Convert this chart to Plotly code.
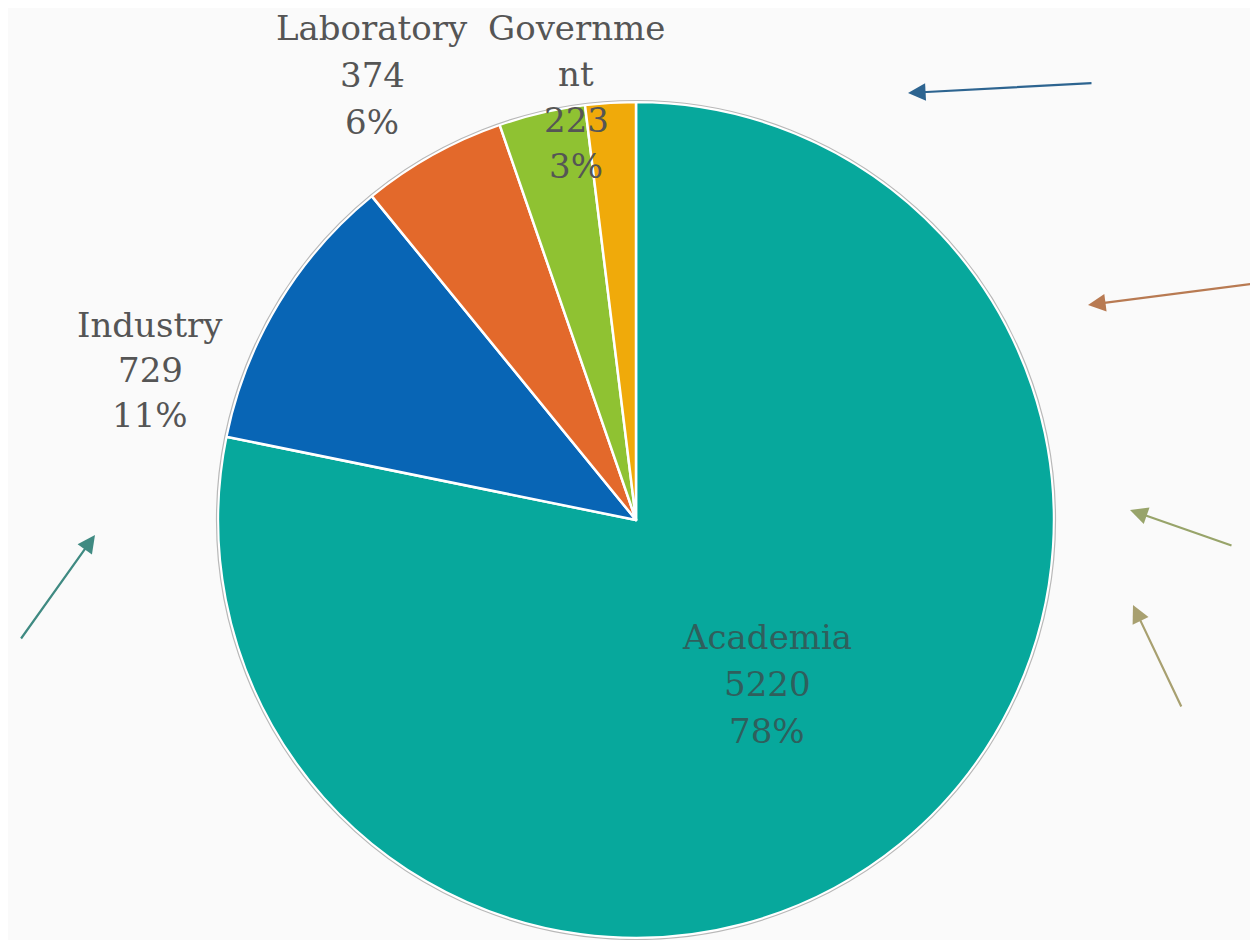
import plotly.graph_objects as go

# ---- data ----
categories = ["Academia", "Industry", "Laboratory", "Government", "Other"]
display_names = ["Academia", "Industry", "Laboratory", "Governme<br>nt", ""]
values = [5220, 729, 374, 223, 130]
colors = ["#07a89c", "#0865b5", "#e3692b", "#8fc232", "#f0aa0a"]
show_label = [True, True, True, True, False]

# page offset (browser body margin) compensation
OFF = 8
W, H = 1258 - OFF, 940 - OFF
cx, cy, r = 636 - OFF, 520 - OFF, 418


def px(x):
    return (x - OFF) / W


def py(y):
    return 1 - (y - OFF) / H


total = sum(values)
fig = go.Figure()
fig.add_trace(go.Pie(
    labels=categories, values=values, sort=False, direction="clockwise", rotation=0,
    marker=dict(colors=colors, line=dict(color="white", width=2.5)),
    textinfo="none", hoverinfo="label+value+percent", showlegend=False,
    domain=dict(x=[(cx - r) / W, (cx + r) / W], y=[(H - (cy + r)) / H, (H - (cy - r)) / H]),
))

# outer thin grey ring
fig.add_shape(type="circle", xref="paper", yref="paper",
              x0=(cx - r - 1.5) / W, x1=(cx + r + 1.5) / W,
              y0=(H - (cy + r + 1.5)) / H, y1=(H - (cy - r - 1.5)) / H,
              line=dict(color="#b8b8b8", width=1.2))

# label placement (pixel centres of first line), line spacing, colour
label_pos = {
    "Academia": (767, 637, 47, "#2f5f5c"),
    "Industry": (150, 325, 45, "#555555"),
    "Laboratory": (372, 28, 47, "#555555"),
    "Government": (576, 28, 46, "#555555"),
}
for cat, name, v, show in zip(categories, display_names, values, show_label):
    if not show:
        continue
    pct = round(v / total * 100)
    lines = name.split("<br>") + [str(v), f"{pct}%"]
    x0, y0, dy, col = label_pos[cat]
    for i, ln in enumerate(lines):
        fig.add_annotation(x=px(x0), y=py(y0 + i * dy), xref="paper", yref="paper",
                           text=ln, showarrow=False, xanchor="center", yanchor="middle",
                           font=dict(family="DejaVu Serif", size=34, color=col))

# decorative arrows (head, tail, colour)
arrows = [
    ((908, 93), (1093, 83), "#2d6490"),
    ((1088, 305), (1258, 283), "#b87a52"),
    ((1130, 510), (1233, 546), "#98a46a"),
    ((1133, 605), (1182, 708), "#a8a070"),
    ((95, 535), (20, 640), "#3f8a82"),
]
for (hx, hy), (tx, ty), col in arrows:
    fig.add_annotation(x=px(hx), y=py(hy), xref="paper", yref="paper",
                       ax=tx - hx, ay=ty - hy, axref="pixel", ayref="pixel",
                       showarrow=True, arrowhead=2, arrowsize=1.6, arrowwidth=2.2,
                       arrowcolor=col, text="")

fig.update_layout(
    width=W, height=H,
    margin=dict(l=0, r=0, t=0, b=0),
    paper_bgcolor="#fafafa", plot_bgcolor="#fafafa",
)
fig.write_html("out.html")
